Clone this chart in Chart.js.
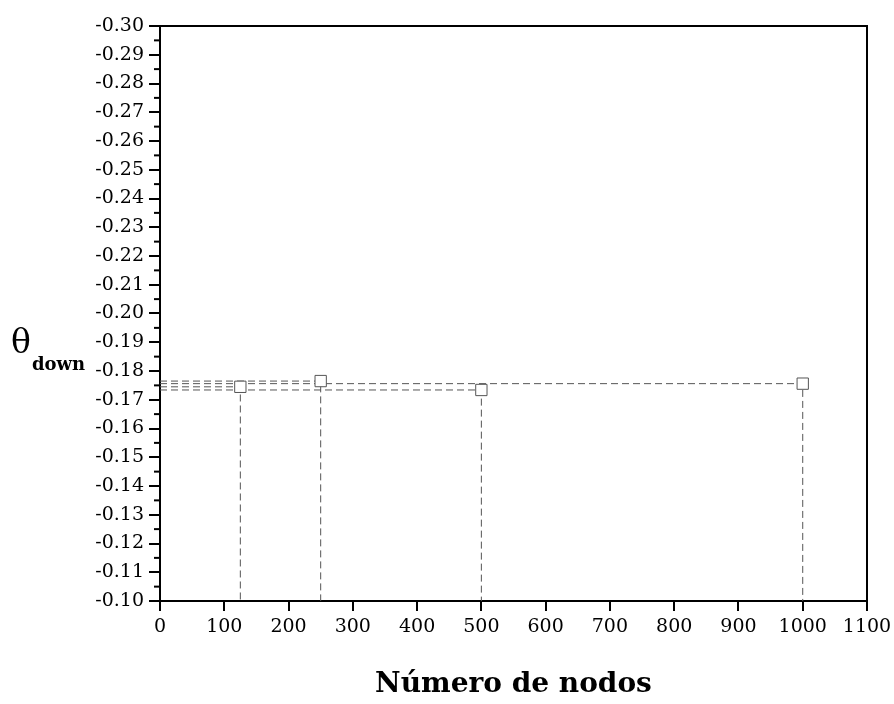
<!DOCTYPE html>
<html>
<head>
<meta charset="utf-8">
<script src="https://cdn.jsdelivr.net/npm/chart.js@4.4.1/dist/chart.umd.min.js"></script>
<style>
  html, body { margin: 0; padding: 0; background: #fff; }
  #wrap { width: 894px; height: 704px; }
</style>
</head>
<body>
<div id="wrap"><canvas id="grafico" width="894" height="704"></canvas></div>
<script>
// datos
const nodos = [125, 250, 500, 1000];
const thetaDown = [-0.1745, -0.1765, -0.1734, -0.1756];
const yMin = -0.30;
const yMax = -0.10;
const xMax = 1100;

const fuente = "'DejaVu Serif', 'Liberation Serif', serif";
const guia = "#555";

// lineas punteadas de cada punto hasta los ejes
const guias = nodos.map((n, i) => ({
    data: [{ x: 0, y: thetaDown[i] }, { x: n, y: thetaDown[i] }, { x: n, y: yMax }],
    showLine: true,
    borderColor: guia,
    borderWidth: 1,
    borderDash: [7, 4],
    pointRadius: 0,
    clip: 0,
    order: 2
}));

// marco, ticks menores y titulo del eje y
const marco = {
    id: "marco",
    afterDraw(chart) {
        const { ctx, chartArea: a, scales } = chart;
        ctx.save();
        ctx.strokeStyle = "#000";
        ctx.lineWidth = 2;
        ctx.beginPath();
        ctx.moveTo(a.left, a.top);
        ctx.lineTo(a.right, a.top);
        ctx.lineTo(a.right, a.bottom);
        ctx.stroke();
        for (let k = 0; k < 20; k++) {
            const v = yMin + 0.005 + k * 0.01;
            const py = scales.y.getPixelForValue(v);
            ctx.beginPath();
            ctx.moveTo(a.left - 6, py);
            ctx.lineTo(a.left, py);
            ctx.stroke();
        }
        ctx.fillStyle = "#000";
        ctx.textBaseline = "alphabetic";
        ctx.font = "33px " + fuente;
        ctx.fillText("θ", 11, 353);
        ctx.font = "bold 18px " + fuente;
        ctx.fillText("down", 32, 370);
        ctx.restore();
    }
};

new Chart(document.getElementById("grafico"), {
    type: "scatter",
    data: {
        datasets: [{
            data: nodos.map((n, i) => ({ x: n, y: thetaDown[i] })),
            pointStyle: "rect",
            pointRadius: 8,
            backgroundColor: "#fff",
            borderColor: "#555",
            borderWidth: 1,
            order: 1
        }, ...guias]
    },
    options: {
        responsive: false,
        animation: false,
        layout: { padding: { top: 26, right: 27, left: 0, bottom: 0 } },
        plugins: { legend: { display: false }, tooltip: { enabled: false } },
        scales: {
            x: {
                type: "linear",
                min: 0,
                max: xMax,
                border: { color: "#000", width: 2 },
                grid: { drawOnChartArea: false, color: "#000", tickLength: 10, lineWidth: 2 },
                ticks: {
                    stepSize: 100,
                    color: "#000",
                    font: { family: fuente, size: 19 },
                    padding: 5,
                    maxRotation: 0,
                    callback: v => String(v)
                },
                title: {
                    display: true,
                    text: "Número de nodos",
                    color: "#000",
                    font: { family: fuente, size: 28, weight: "bold" },
                    padding: { top: 0, bottom: 2 }
                },
                afterFit(s) {
                    s.height = 103;
                    s.paddingLeft = 0;
                    s.paddingRight = 0;
                }
            },
            y: {
                type: "linear",
                min: yMin,
                max: yMax,
                reverse: true,
                border: { color: "#000", width: 2 },
                grid: { drawOnChartArea: false, color: "#000", tickLength: 11, lineWidth: 2 },
                ticks: {
                    stepSize: 0.01,
                    color: "#000",
                    font: { family: fuente, size: 19 },
                    padding: 5,
                    callback: v => v.toFixed(2)
                },
                afterFit(s) {
                    s.width = 160;
                    s.paddingTop = 0;
                    s.paddingBottom = 0;
                }
            }
        }
    },
    plugins: [marco]
});
</script>
</body>
</html>
